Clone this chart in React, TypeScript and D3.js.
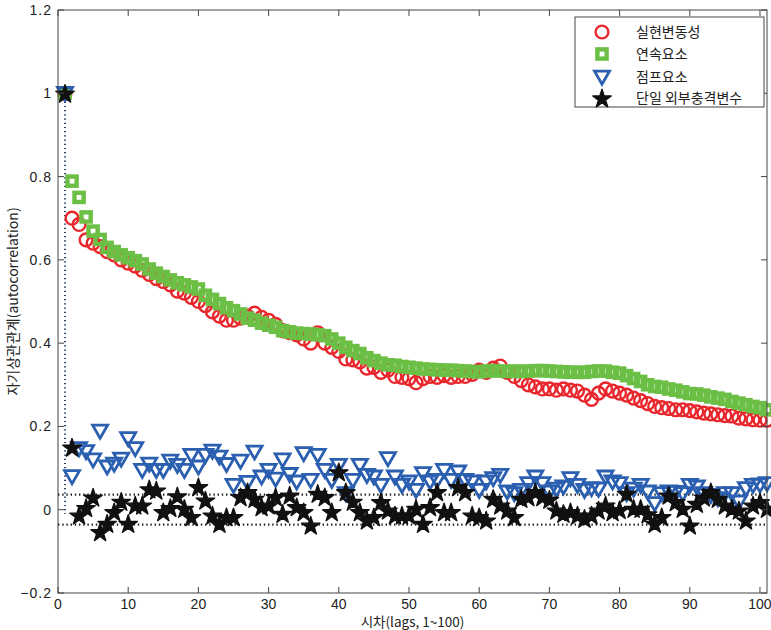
import React, { useEffect, useRef } from "react";
import * as d3 from "d3";

// ==========================
// Data
// ==========================
const lags = d3.range(1, 102); // plotted positions, lag 0..100

const realizedVol = [
  1.0, 0.7, 0.685, 0.648, 0.64, 0.632, 0.62, 0.612, 0.6, 0.592,
  0.585, 0.575, 0.565, 0.555, 0.548, 0.54, 0.525, 0.52, 0.51, 0.5,
  0.49, 0.475, 0.465, 0.455, 0.455, 0.46, 0.465, 0.472, 0.462, 0.455,
  0.445, 0.43, 0.425, 0.42, 0.41, 0.4, 0.425, 0.4, 0.39, 0.38,
  0.362, 0.36, 0.355, 0.34, 0.342, 0.33, 0.335, 0.32, 0.318, 0.315,
  0.305, 0.315, 0.32, 0.318, 0.322, 0.318, 0.32, 0.32, 0.325, 0.335,
  0.33, 0.34, 0.345, 0.33, 0.32, 0.31, 0.3, 0.295, 0.29, 0.29,
  0.287, 0.29, 0.287, 0.285, 0.275, 0.265, 0.28, 0.29, 0.285, 0.28,
  0.275, 0.268, 0.262, 0.255, 0.248, 0.245, 0.243, 0.24, 0.24, 0.238,
  0.235, 0.232, 0.23, 0.228, 0.226, 0.225, 0.22, 0.218, 0.216, 0.215,
  0.215,
];

const continuousPart = [
  1.0, 0.789, 0.75, 0.703, 0.669, 0.649, 0.63, 0.62, 0.612, 0.605,
  0.598, 0.59, 0.578, 0.568, 0.56, 0.552, 0.545, 0.54, 0.535, 0.53,
  0.515, 0.505, 0.495, 0.485, 0.478, 0.47, 0.46, 0.455, 0.448, 0.443,
  0.438, 0.43, 0.427, 0.424, 0.423, 0.422, 0.42, 0.418, 0.41, 0.4,
  0.39, 0.382, 0.375, 0.365, 0.358, 0.352, 0.348, 0.347, 0.344, 0.342,
  0.34, 0.338, 0.337, 0.336, 0.335, 0.335, 0.334, 0.333, 0.332, 0.331,
  0.333, 0.334, 0.333, 0.332, 0.333, 0.332, 0.333, 0.334, 0.334, 0.333,
  0.332, 0.331, 0.33, 0.33, 0.33, 0.332, 0.333, 0.333, 0.33, 0.328,
  0.322, 0.315, 0.308, 0.3, 0.296, 0.294, 0.29, 0.287, 0.283, 0.279,
  0.278, 0.275, 0.271, 0.268, 0.265, 0.26, 0.256, 0.252, 0.248, 0.245,
  0.24,
];

const jumpPart = [
  1.0, 0.08, 0.147, 0.14, 0.12, 0.189, 0.103, 0.11, 0.122, 0.171,
  0.147, 0.095, 0.11, 0.095, 0.095, 0.117, 0.107, 0.095, 0.131, 0.103,
  0.131, 0.141, 0.127, 0.109, 0.059, 0.117, 0.066, 0.139, 0.079, 0.095,
  0.074, 0.12, 0.085, 0.067, 0.135, 0.071, 0.131, 0.095, 0.071, 0.107,
  0.039, 0.071, 0.107, 0.083, 0.079, 0.059, 0.123, 0.079, 0.059, 0.067,
  0.047, 0.087, 0.067, 0.071, 0.095, 0.071, 0.091, 0.071, 0.067, 0.047,
  0.067, 0.075, 0.083, 0.043, 0.039, 0.047, 0.063, 0.079, 0.063, 0.043,
  0.05, 0.055, 0.075, 0.059, 0.047, 0.051, 0.05, 0.079, 0.067, 0.063,
  0.039, 0.05, 0.059, 0.043, 0.015, 0.039, 0.043, 0.042, 0.039, 0.059,
  0.055, 0.039, 0.035, 0.027, 0.039, 0.039, 0.019, 0.051, 0.059, 0.06,
  0.063,
];

const shockVar = [
  1.0, 0.15, -0.013, 0.005, 0.03, -0.053, -0.033, -0.005, 0.02, -0.033,
  0.011, 0.011, 0.05, 0.047, -0.005, 0.005, 0.033, 0.003, -0.017, 0.055,
  0.023, -0.013, -0.033, -0.017, -0.017, 0.031, 0.043, 0.027, 0.007, 0.011,
  0.031, -0.009, 0.035, 0.007, -0.005, -0.037, 0.039, 0.031, -0.005, 0.091,
  0.043, 0.02, -0.005, -0.025, -0.017, 0.019, -0.001, -0.013, -0.013, -0.013,
  0.003, -0.033, 0.007, 0.043, -0.005, -0.005, 0.055, 0.043, -0.013, -0.017,
  -0.025, 0.027, 0.011, -0.001, -0.017, 0.027, 0.031, 0.043, 0.031, 0.025,
  -0.001, -0.009, -0.005, -0.013, -0.021, -0.013, -0.001, 0.011, -0.005, 0.0,
  0.039, 0.003, 0.003, -0.01, -0.033, -0.017, 0.035, 0.019, 0.003, -0.037,
  0.015, 0.03, 0.043, 0.027, 0.011, 0.003, -0.001, -0.025, 0.011, 0.019,
  0.003,
];

const confBounds = [0.036, -0.036];
const xTicks = [0, 10, 20, 30, 40, 50, 60, 70, 80, 90, 100];
const yTicks = [-0.2, 0, 0.2, 0.4, 0.6, 0.8, 1, 1.2];
const legendLabels = ["실현변동성", "연속요소", "점프요소", "단일 외부충격변수"];

const RED = "#e8262b";
const GREEN = "#6cbf45";
const BLUE = "#2b5fb0";
const BLACK = "#111";

export default function App() {
  const ref = useRef<SVGSVGElement | null>(null);

  useEffect(() => {
    const width = 771;
    const height = 630;
    const margin = { top: 10, right: 4, bottom: 37, left: 58 };

    const svg = d3.select(ref.current);
    svg.selectAll("*").remove();

    const x = d3.scaleLinear().domain([0, 101]).range([margin.left, width - margin.right]);
    const y = d3.scaleLinear().domain([-0.2, 1.2]).range([height - margin.bottom, margin.top]);

    const x0 = x.range()[0];
    const x1 = x.range()[1];
    const y0 = y.range()[0];
    const y1 = y.range()[1];

    // ==========================
    // Markers
    // ==========================
    const starPath = d3.symbol(d3.symbolStar, 105)();
    const triPath = "M-7.5,-5.8L7.5,-5.8L0,7.2Z";

    const drawCircle = (g: any, cx: number, cy: number) =>
      g.append("circle").attr("cx", cx).attr("cy", cy).attr("r", 6.4)
        .attr("fill", "none").attr("stroke", RED).attr("stroke-width", 2.4);
    const drawSquare = (g: any, cx: number, cy: number) =>
      g.append("rect").attr("x", cx - 4.6).attr("y", cy - 4.6).attr("width", 9.2).attr("height", 9.2)
        .attr("fill", "none").attr("stroke", GREEN).attr("stroke-width", 4.4);
    const drawTri = (g: any, cx: number, cy: number) =>
      g.append("path").attr("d", triPath).attr("transform", `translate(${cx},${cy})`)
        .attr("fill", "none").attr("stroke", BLUE).attr("stroke-width", 2.8)
        .attr("stroke-linejoin", "miter");
    const drawStar = (g: any, cx: number, cy: number) =>
      g.append("path").attr("d", starPath).attr("transform", `translate(${cx},${cy + 1})`)
        .attr("fill", BLACK).attr("stroke", BLACK).attr("stroke-width", 1.4)
        .attr("stroke-linejoin", "round");

    // ==========================
    // Reference lines
    // ==========================
    svg.append("line")
      .attr("x1", x(1)).attr("x2", x(1))
      .attr("y1", y(1)).attr("y2", y(-0.01))
      .attr("stroke", "#2a3f6a").attr("stroke-width", 2)
      .attr("stroke-dasharray", "1.2,3");

    confBounds.forEach(b => {
      svg.append("line")
        .attr("x1", x(0)).attr("x2", x(101))
        .attr("y1", y(b)).attr("y2", y(b))
        .attr("stroke", "#222").attr("stroke-width", 2.2)
        .attr("stroke-dasharray", "1.4,2.8");
    });

    // ==========================
    // Series
    // ==========================
    const plot = svg.append("g");
    lags.forEach((l, i) => drawCircle(plot, x(l), y(realizedVol[i])));
    lags.forEach((l, i) => drawSquare(plot, x(l), y(continuousPart[i])));
    lags.forEach((l, i) => drawTri(plot, x(l), y(jumpPart[i])));
    lags.forEach((l, i) => drawStar(plot, x(l), y(shockVar[i])));

    // ==========================
    // Axes box + ticks
    // ==========================
    svg.append("rect")
      .attr("x", x0).attr("y", y1)
      .attr("width", x1 - x0).attr("height", y0 - y1)
      .attr("fill", "none").attr("stroke", "#444").attr("stroke-width", 1);

    const tl = 6;
    xTicks.forEach(t => {
      svg.append("line").attr("x1", x(t)).attr("x2", x(t)).attr("y1", y0).attr("y2", y0 - tl)
        .attr("stroke", "#444");
      svg.append("line").attr("x1", x(t)).attr("x2", x(t)).attr("y1", y1).attr("y2", y1 + tl)
        .attr("stroke", "#444");
      svg.append("text")
        .attr("x", x(t)).attr("y", y0 + 15.5)
        .attr("text-anchor", "middle")
        .attr("font-family", "'Liberation Sans Narrow', 'Liberation Sans', Arial, sans-serif")
        .attr("font-size", 14).attr("fill", "#222")
        .text(t);
    });

    yTicks.forEach(t => {
      svg.append("line").attr("x1", x0).attr("x2", x0 + tl).attr("y1", y(t)).attr("y2", y(t))
        .attr("stroke", "#444");
      svg.append("line").attr("x1", x1).attr("x2", x1 - tl).attr("y1", y(t)).attr("y2", y(t))
        .attr("stroke", "#444");
      svg.append("text")
        .attr("x", x0 - 6).attr("y", y(t) + 5)
        .attr("text-anchor", "end")
        .attr("font-family", "'Liberation Sans', Arial, sans-serif")
        .attr("font-size", 14).attr("letter-spacing", 1).attr("fill", "#222")
        .text(t < 0 ? `\u2212${Math.abs(t)}` : `${t}`);
    });

    // ==========================
    // Axis titles
    // ==========================
    svg.append("text")
      .attr("x", (x0 + x1) / 2).attr("y", 627)
      .attr("text-anchor", "middle")
      .attr("font-family", "'Liberation Sans Narrow', 'Noto Sans CJK KR', sans-serif")
      .attr("font-size", 13.5).attr("fill", "#222")
      .text("시차(lags, 1~100)");

    svg.append("text")
      .attr("transform", `translate(18,${(y0 + y1) / 2}) rotate(-90)`)
      .attr("text-anchor", "middle")
      .attr("font-family", "'Noto Sans CJK KR', 'Liberation Sans', sans-serif")
      .attr("font-size", 14).attr("fill", "#222")
      .text("자기상관관계(autocorrelation)");

    // ==========================
    // Legend
    // ==========================
    const leg = svg.append("g");
    leg.append("rect")
      .attr("x", 575).attr("y", 17).attr("width", 189).attr("height", 90)
      .attr("fill", "#fff").attr("stroke", "#444").attr("stroke-width", 1);

    const rows = [32, 54, 77, 98];
    const drawers = [drawCircle, drawSquare, drawTri, drawStar];
    legendLabels.forEach((lab, i) => {
      drawers[i](leg, 602, rows[i]);
      leg.append("text")
        .attr("x", 636).attr("y", rows[i] + 5)
        .attr("font-family", "'Noto Sans CJK KR', sans-serif")
        .attr("font-size", 14).attr("fill", "#222")
        .text(lab);
    });
  }, []);

  return (
    <div>
      <svg
        ref={ref}
        width={771}
        height={630}
        style={{ position: "absolute", left: 0, top: 0, display: "block", background: "#fff" }}
      />
    </div>
  );
}
